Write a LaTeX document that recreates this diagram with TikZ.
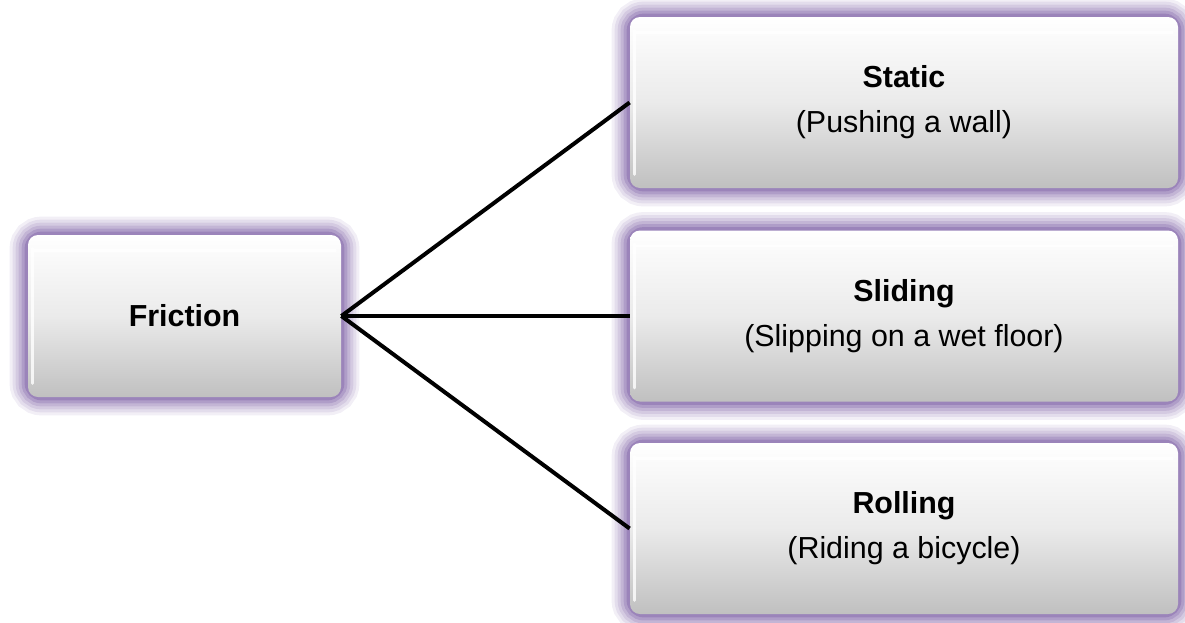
\documentclass[tikz,border=0pt]{standalone}
\usepackage{fontspec}
\setmainfont{Liberation Sans}
\usetikzlibrary{calc}
\pgfdeclarelayer{background}
\pgfsetlayers{background,main}
\definecolor{glow}{RGB}{125,95,165}
\definecolor{boxbot}{RGB}{192,192,192}
\tikzset{
  box/.style={rounded corners=5pt, top color=white, bottom color=boxbot,
    middle color=black!8, shading angle=0, align=center, inner sep=0pt,
    font=\fontsize{15.2}{22.5}\selectfont},
  smallbox/.style={box, minimum width=156.5pt, minimum height=81pt},
  bigbox/.style={box, minimum width=274pt, minimum height=85.5pt},
  link/.style={line width=2pt, black}
}
\begin{document}
\begin{tikzpicture}[x=0.5pt,y=-0.5pt]
\useasboundingbox (0,0) rectangle (1185,622);
\node[smallbox] (fr) at (184.5,316) {\textbf{Friction}};
\node[bigbox] (st) at (904,102.5) {\textbf{Static}\\(Pushing a wall)};
\node[bigbox] (sl) at (904,316) {\textbf{Sliding}\\(Slipping on a wet floor)};
\node[bigbox] (ro) at (904,528.5) {\textbf{Rolling}\\(Riding a bicycle)};
\begin{pgfonlayer}{background}
\foreach \n in {fr,st,sl,ro}{
  \foreach \w/\o in {18/0.1,15/0.12,12/0.15,9/0.2,6/0.28,3/0.4}{
    \draw[glow, line width=\w pt, opacity=\o, rounded corners=7pt]
      (\n.south west) rectangle (\n.north east);
  }
}
\end{pgfonlayer}
\foreach \n in {fr,st,sl,ro}{
  \draw[white, line width=1.2pt, opacity=0.9, line cap=round]
    ($(\n.north west)+(6,16)$) -- ($(\n.north east)+(-6,16)$);
  \draw[white, line width=1.5pt, opacity=0.8, line cap=round]
    ($(\n.north west)+(5,14)$) -- ($(\n.south west)+(5,-14)$);
}
\draw[link] (fr.east) -- (st.west);
\draw[link] (fr.east) -- (sl.west);
\draw[link] (fr.east) -- (ro.west);
\end{tikzpicture}
\end{document}
